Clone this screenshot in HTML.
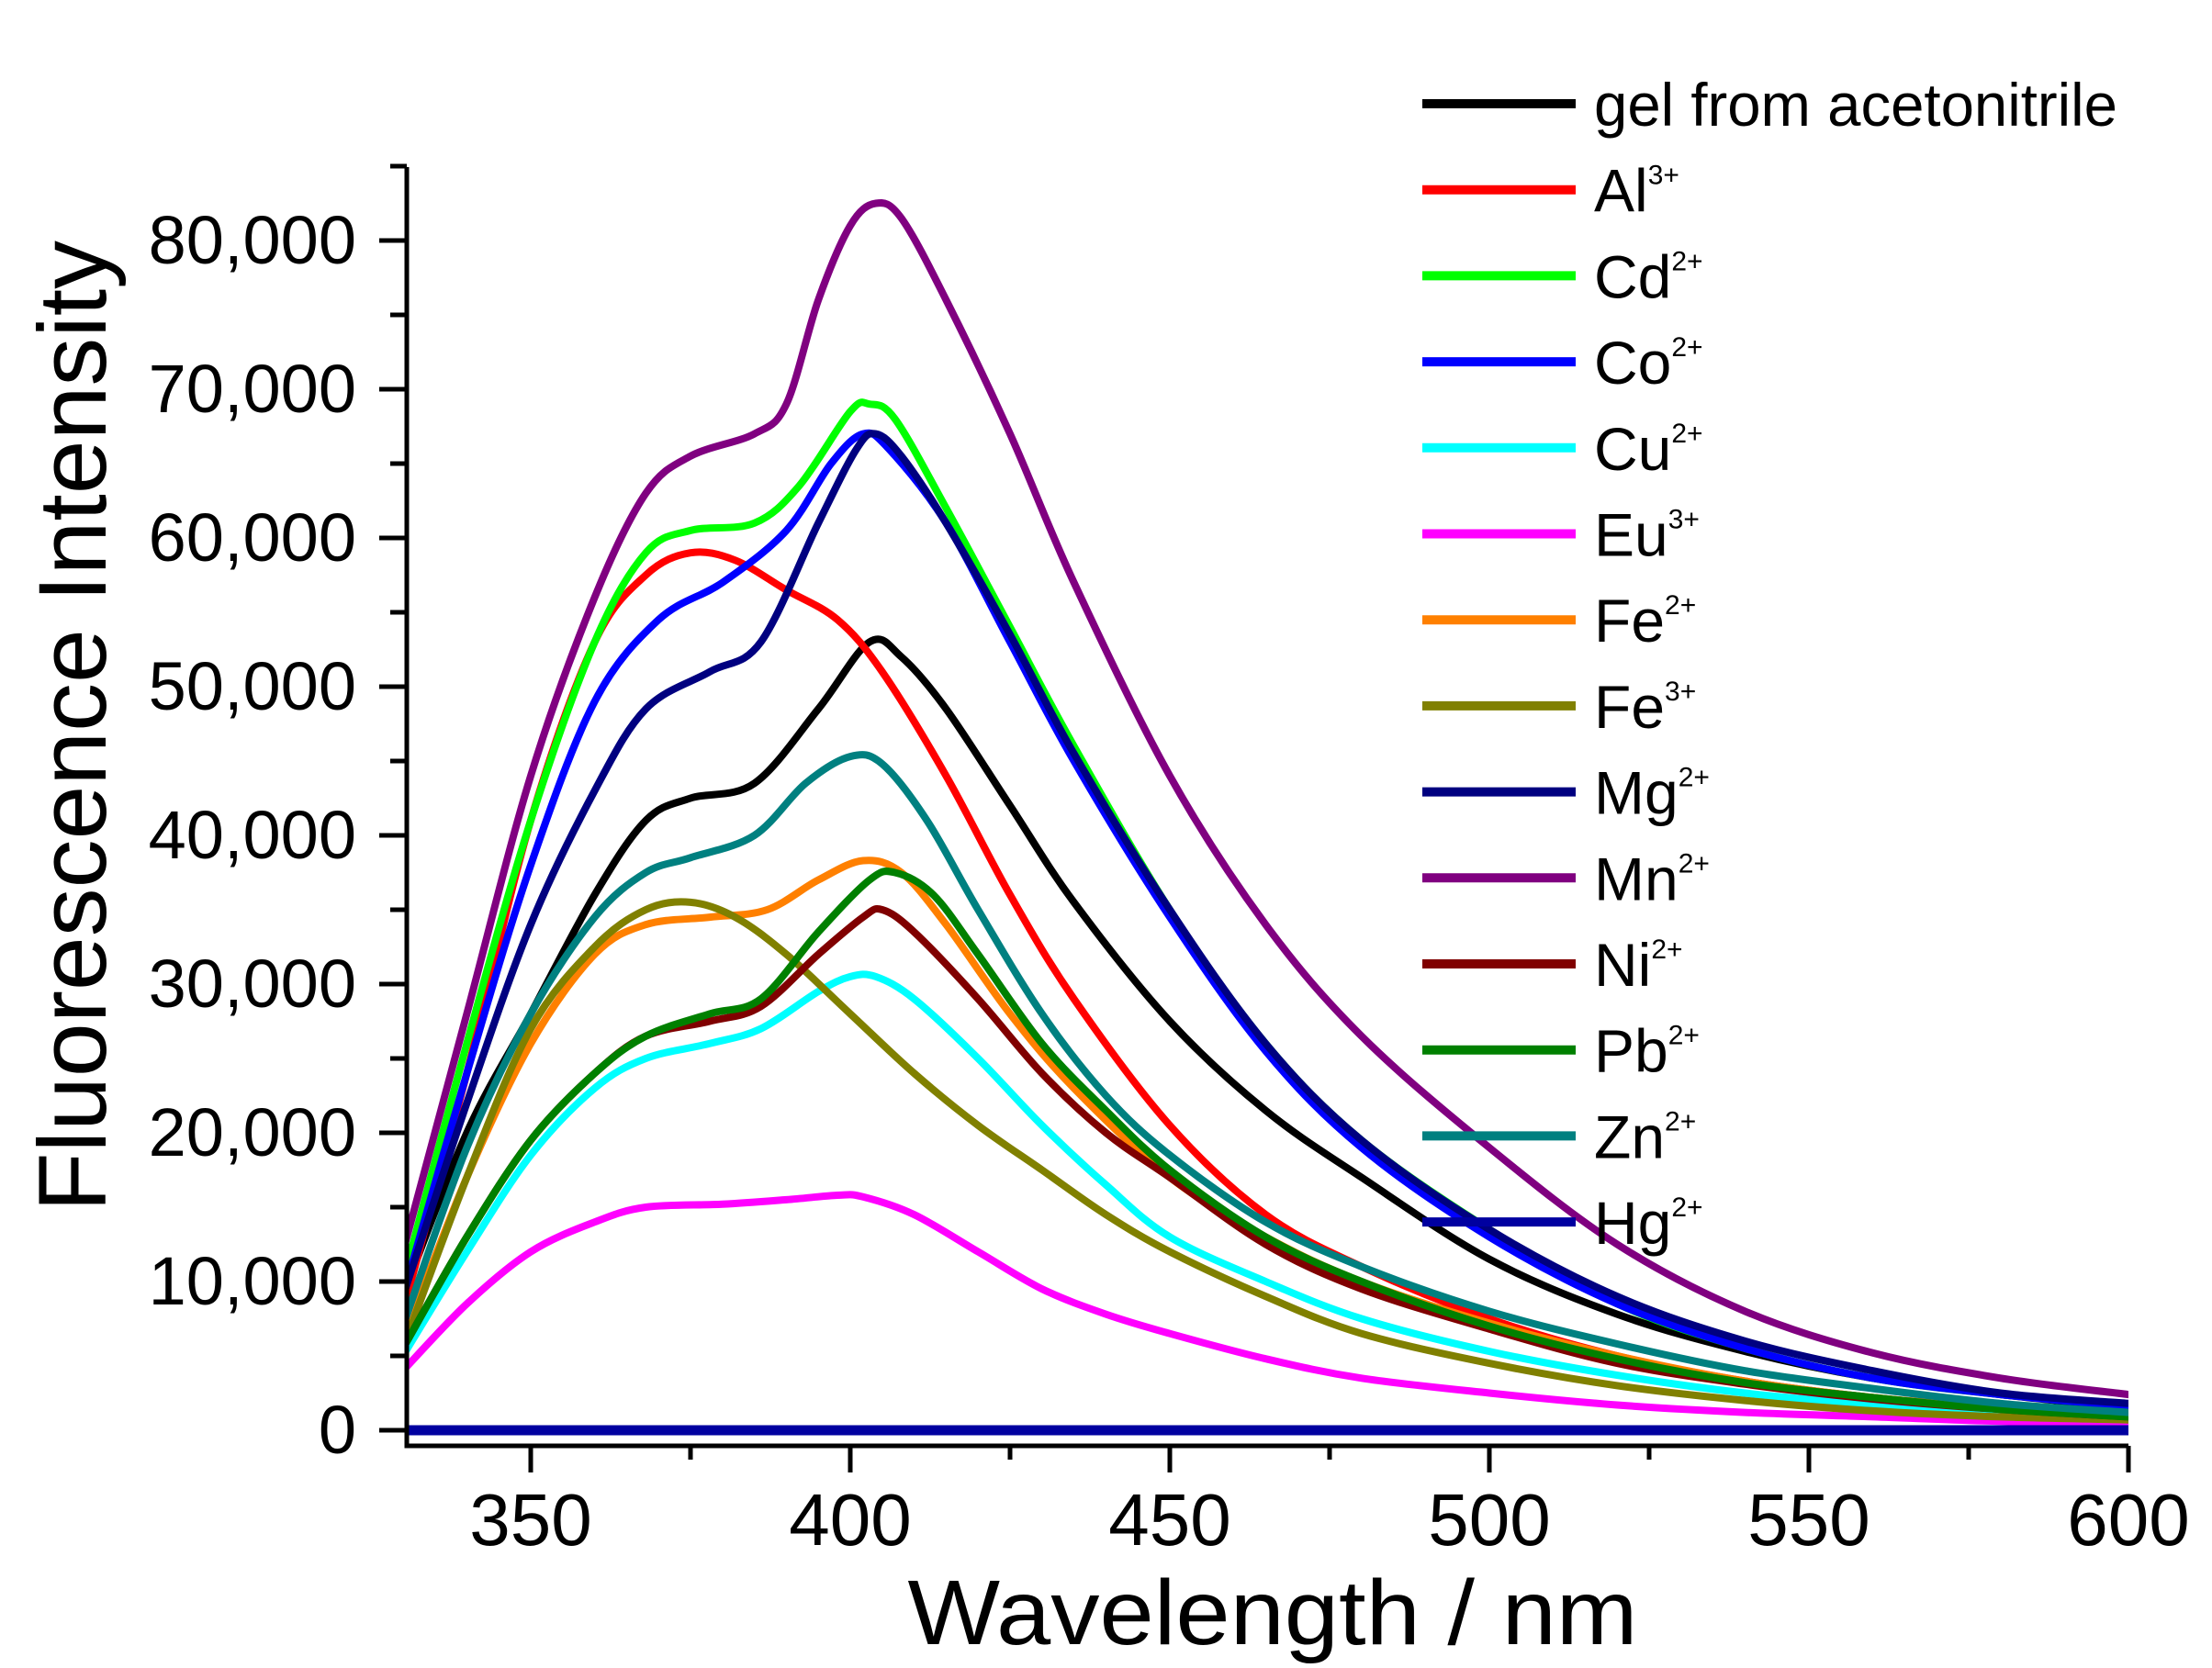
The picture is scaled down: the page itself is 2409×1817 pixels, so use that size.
<!DOCTYPE html>
<html><head><meta charset="utf-8"><style>
html,body{margin:0;padding:0;background:#fff;}
svg{display:block;}
text{font-family:"Liberation Sans",Arial,sans-serif;fill:#000;}
</style></head><body>
<svg id="s" width="2409" height="1817" viewBox="0 0 2409 1817" xmlns="http://www.w3.org/2000/svg">
<rect width="2409" height="1817" fill="#fff"/>
<g id="curves" fill="none" stroke-width="8" stroke-linejoin="round" stroke-linecap="round"></g>
<g id="axes" stroke="#000" stroke-width="5" fill="none"></g>
<g id="labels"></g>
<g id="legend"></g>
<text x="1386" y="1791" font-size="100" text-anchor="middle" textLength="795" lengthAdjust="spacingAndGlyphs">Wavelength / nm</text>
<text transform="translate(115,791) rotate(-90)" font-size="105" text-anchor="middle" textLength="1058" lengthAdjust="spacingAndGlyphs">Fluorescence Intensity</text>
</svg>
<script>
var NS="http://www.w3.org/2000/svg";
function X(nm){return 578+(nm-350)*6.96;}
function Y(k){return 1558-k*16.2;}
function el(n,a,p){var e=document.createElementNS(NS,n);for(var k in a)e.setAttribute(k,a[k]);p.appendChild(e);return e;}
var S=[
["gel from acetonitrile","#000000","",[[330,9],[340,20],[350,28],[360,36],[368,41],[375,42.5],[385,43.5],[395,48.5],[403,53],[408,52],[415,48.5],[425,42],[435,35.5],[450,27.5],[465,21.5],[480,17],[500,11.5],[520,7.8],[540,5.3],[560,3.5],[580,2.4],[600,1.5]]],
["Al","#ff0000","3+",[[330,8],[340,24],[350,41],[360,53],[368,57.5],[375,59],[382,58.5],[390,56.5],[398,54.5],[405,51],[415,44],[425,36],[435,29],[450,20.5],[465,14.5],[480,11],[500,7.5],[520,5],[540,3.3],[560,2.2],[580,1.5],[600,1.1]]],
["Cd","#00ff00","2+",[[330,10],[340,26],[350,41],[360,53],[368,59],[375,60.5],[385,61],[392,63.5],[400,68.5],[403,69],[407,68],[415,62],[425,54],[435,46],[450,35],[465,26],[480,19.5],[500,13.5],[520,8.5],[540,5.5],[560,3.5],[580,2.4],[600,1.7]]],
["Co","#0000ff","2+",[[330,9],[340,24],[350,38],[360,49],[370,54.5],[380,57],[390,60.5],[397,65],[402,67],[406,66],[415,61],[425,53],[435,45],[450,34.5],[465,25.5],[480,19],[500,13],[520,8.5],[540,5.5],[560,3.5],[580,2.4],[600,1.6]]],
["Cu","#00ffff","2+",[[330,5],[340,12],[350,18.5],[360,23],[368,25],[378,26],[386,27],[395,29.5],[400,30.5],[404,30.5],[410,29],[420,25],[430,20.5],[440,16.5],[450,13],[465,10],[480,7.5],[500,5.3],[520,3.7],[540,2.5],[560,1.7],[580,1.1],[600,0.8]]],
["Eu","#ff00ff","3+",[[330,4],[340,8.5],[350,12],[360,14],[368,15],[380,15.2],[390,15.5],[398,15.8],[402,15.7],[410,14.5],[420,12],[430,9.5],[440,7.8],[450,6.5],[465,4.8],[480,3.5],[500,2.5],[520,1.7],[540,1.2],[560,0.9],[580,0.6],[600,0.5]]],
["Fe","#ff8000","2+",[[330,6],[340,17],[350,26],[360,32],[368,34],[378,34.5],[387,35],[395,37],[402,38.3],[408,37.5],[415,34],[425,28],[435,23],[450,17],[465,13],[480,10],[500,7.2],[520,5],[540,3.3],[560,2.2],[580,1.5],[600,1]]],
["Fe","#808000","3+",[[330,5.5],[340,17],[350,27],[360,32.5],[368,35],[375,35.5],[382,34.5],[390,32],[400,28],[410,24],[420,20.5],[430,17.5],[440,14.5],[450,12],[465,9],[480,6.5],[500,4.5],[520,3],[540,2],[560,1.3],[580,0.9],[600,0.7]]],
["Mg","#000080","2+",[[330,9],[340,22],[350,34],[360,43],[368,48.5],[378,51],[386,53],[395,61],[401,66],[404,67],[408,65.5],[415,61],[425,53.5],[435,45.5],[450,35],[465,26],[480,19.5],[500,13.5],[520,9],[540,6],[560,4],[580,2.5],[600,1.8]]],
["Mn","#800080","2+",[[330,12],[340,28],[350,44],[360,56],[368,63],[375,65.5],[385,67],[390,69],[395,76],[400,81],[404,82.5],[408,81.5],[415,76],[425,67],[435,57],[450,44],[465,34],[480,26.5],[500,19],[520,12.5],[540,8],[560,5.2],[580,3.5],[600,2.4]]],
["Ni","#800000","2+",[[330,5.5],[340,13],[350,19.5],[360,24],[368,26.5],[378,27.5],[386,28.5],[395,32],[402,34.5],[405,35],[410,33.5],[420,29],[430,24],[440,20],[450,17],[465,12.5],[480,9.5],[500,6.8],[520,4.5],[540,3.1],[560,2.1],[580,1.4],[600,0.9]]],
["Pb","#008000","2+",[[330,5.5],[340,13],[350,19.5],[360,24],[368,26.5],[378,28],[386,29],[395,33.5],[403,37],[407,37.5],[413,36],[420,32],[430,26],[440,21.5],[450,17.5],[465,13],[480,10],[500,7],[520,4.8],[540,3.2],[560,2.2],[580,1.4],[600,0.9]]],
["Zn","#008080","2+",[[330,7],[340,19],[350,28],[360,34.5],[368,37.5],[375,38.5],[385,40],[393,43.5],[400,45.3],[405,44.8],[412,41],[420,35],[430,28],[440,22.5],[450,18.5],[465,14],[480,11],[500,8],[520,5.8],[540,4],[560,2.8],[580,1.8],[600,1.2]]],
["Hg","#0000a0","2+",[[330.5,0],[600,0]]]
];
function path(pts){
 var p=pts.map(function(q){return [X(q[0]),Y(q[1])];});
 if(p.length<3)return "M"+p[0][0]+","+p[0][1]+"L"+p[1][0]+","+p[1][1];
 var d="M"+p[0][0].toFixed(1)+","+p[0][1].toFixed(1);
 for(var i=0;i<p.length-1;i++){
  var p0=p[i-1]||p[i],p1=p[i],p2=p[i+1],p3=p[i+2]||p2;
  var c1=[p1[0]+(p2[0]-p0[0])/6,p1[1]+(p2[1]-p0[1])/6];
  var c2=[p2[0]-(p3[0]-p1[0])/6,p2[1]-(p3[1]-p1[1])/6];
  d+="C"+c1[0].toFixed(1)+","+c1[1].toFixed(1)+" "+c2[0].toFixed(1)+","+c2[1].toFixed(1)+" "+p2[0].toFixed(1)+","+p2[1].toFixed(1);
 }
 return d;
}
var cg=document.getElementById("curves");
var defs=el("defs",{},document.getElementById("s"));
var cp=el("clipPath",{id:"c"},defs);el("rect",{x:442,y:100,width:1876,height:1475},cp);
cg.setAttribute("clip-path","url(#c)");
S.forEach(function(s){el("path",{d:path(s[3]),stroke:s[1],"stroke-width":s[0]=="Hg"?11:8},cg);});
var ag=document.getElementById("axes"),lg=document.getElementById("labels");
el("path",{d:"M443,182V1575H2318"},ag);
for(var k=0;k<=80;k+=5){var y=Y(k);el("line",{x1:k%10==0?413:425,y1:y,x2:443,y2:y},ag);
 if(k%10==0){var t=el("text",{x:388,y:y+25,"font-size":74,"text-anchor":"end"},lg);t.textContent=k==0?"0":(k+",000");}}
el("line",{x1:425,y1:Y(85),x2:443,y2:Y(85)},ag);
for(var nm=350;nm<=600;nm+=25){var x=X(nm);el("line",{x1:x,y1:1575,x2:x,y2:nm%50==0?1604:1590},ag);
 if(nm%50==0){var t=el("text",{x:x,y:1683,"font-size":80,"text-anchor":"middle"},lg);t.textContent=nm;}}
var Lg=document.getElementById("legend");
S.forEach(function(s,i){var y=113+93.7*i;
 el("line",{x1:1549,y1:y,x2:1716,y2:y,stroke:s[1],"stroke-width":10},Lg);
 var t=el("text",{x:1736,y:y+24,"font-size":66},Lg);
 if(i==0){t.setAttribute("textLength","570");t.setAttribute("lengthAdjust","spacingAndGlyphs");}
 t.appendChild(document.createTextNode(s[0]));
 if(s[2]){var ts=el("tspan",{"font-size":30,dy:-30},t);ts.textContent=s[2];}
});
</script>
</body></html>
